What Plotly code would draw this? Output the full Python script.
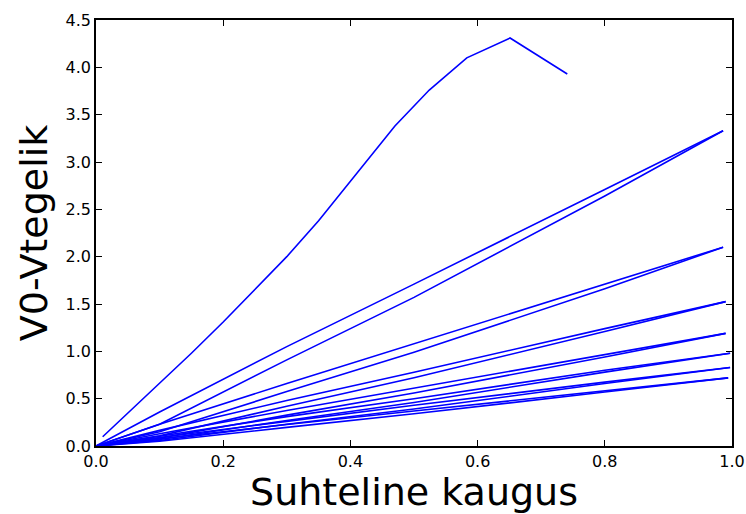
import plotly.graph_objects as go

# Main curve
curve_x = [0.0105, 0.05, 0.1, 0.15, 0.2, 0.25, 0.3, 0.35, 0.4, 0.47, 0.524, 0.583, 0.651, 0.741]
curve_y = [0.098, 0.347, 0.66, 0.98, 1.31, 1.65, 2.00, 2.38, 2.80, 3.38, 3.76, 4.10, 4.31, 3.93]

# Pairs of lines (upper / lower) sharing the end point
xs_A = [0, 0.1, 0.3, 0.5, 0.8, 0.986]
A_upper = [0, 0.36, 1.05, 1.71, 2.71, 3.33]
A_lower = [0, 0.23, 0.91, 1.57, 2.64, 3.33]

xs_B = [0, 0.1, 0.3, 0.5, 0.8, 0.986]
B_upper = [0, 0.23, 0.66, 1.08, 1.71, 2.10]
B_lower = [0, 0.15, 0.575, 0.99, 1.66, 2.10]

xs_C = [0, 0.1, 0.3, 0.5, 0.8, 0.99]
C_upper = [0, 0.165, 0.48, 0.78, 1.24, 1.525]
C_lower = [0, 0.107, 0.42, 0.72, 1.21, 1.525]

xs_D = [0, 0.1, 0.3, 0.5, 0.8, 0.99]
D_upper = [0, 0.13, 0.375, 0.61, 0.97, 1.19]
D_lower = [0, 0.083, 0.326, 0.56, 0.94, 1.19]

xs_E = [0, 0.1, 0.3, 0.5, 0.8, 0.997]
E_upper = [0, 0.106, 0.31, 0.50, 0.80, 0.98]
E_lower = [0, 0.069, 0.27, 0.46, 0.78, 0.98]

xs_F = [0, 0.1, 0.3, 0.5, 0.8, 0.997]
F_upper = [0, 0.09, 0.26, 0.43, 0.675, 0.83]
F_lower = [0, 0.058, 0.23, 0.39, 0.66, 0.83]

xs_G = [0, 0.1, 0.3, 0.5, 0.8, 0.994]
G_upper = [0, 0.078, 0.227, 0.37, 0.585, 0.72]
G_lower = [0, 0.05, 0.197, 0.34, 0.57, 0.72]

x_ticks = [0.0, 0.2, 0.4, 0.6, 0.8, 1.0]
y_ticks = [0.0, 0.5, 1.0, 1.5, 2.0, 2.5, 3.0, 3.5, 4.0, 4.5]

fig = go.Figure()
line_style = dict(color="#0000ff", width=1.6)

fig.add_trace(go.Scatter(x=curve_x, y=curve_y, mode="lines", line=line_style))
for xs, up, lo in [(xs_A, A_upper, A_lower), (xs_B, B_upper, B_lower),
                   (xs_C, C_upper, C_lower), (xs_D, D_upper, D_lower),
                   (xs_E, E_upper, E_lower), (xs_F, F_upper, F_lower),
                   (xs_G, G_upper, G_lower)]:
    fig.add_trace(go.Scatter(x=xs, y=up, mode="lines", line=line_style))
    fig.add_trace(go.Scatter(x=xs, y=lo, mode="lines", line=line_style))

axis_common = dict(
    showline=True, linecolor="black", linewidth=1.5, mirror="ticks",
    ticks="inside", ticklen=6, tickwidth=1, tickcolor="black",
    showgrid=False, zeroline=False, automargin=False,
    tickfont=dict(family="DejaVu Sans", size=16, color="black"),
)

fig.update_layout(
    width=746, height=514,
    margin=dict(l=96, r=14, t=20, b=68),
    paper_bgcolor="white", plot_bgcolor="white",
    showlegend=False,
    xaxis=dict(range=[0, 1], tickvals=x_ticks,
               ticktext=[f"{v:.1f}" for v in x_ticks],
               title=dict(text="Suhteline kaugus",
                          font=dict(family="DejaVu Sans", size=38, color="black"),
                          standoff=4),
               **axis_common),
    yaxis=dict(range=[0, 4.5], tickvals=y_ticks,
               ticktext=[f"{v:.1f}" for v in y_ticks],
               title=dict(text="V0-Vtegelik",
                          font=dict(family="DejaVu Sans", size=38, color="black"),
                          standoff=6),
               **axis_common),
)

fig.write_html(
    "out.html",
    config={"displayModeBar": False},
    post_script="document.body.style.margin='0';document.body.style.overflow='hidden';",
)
